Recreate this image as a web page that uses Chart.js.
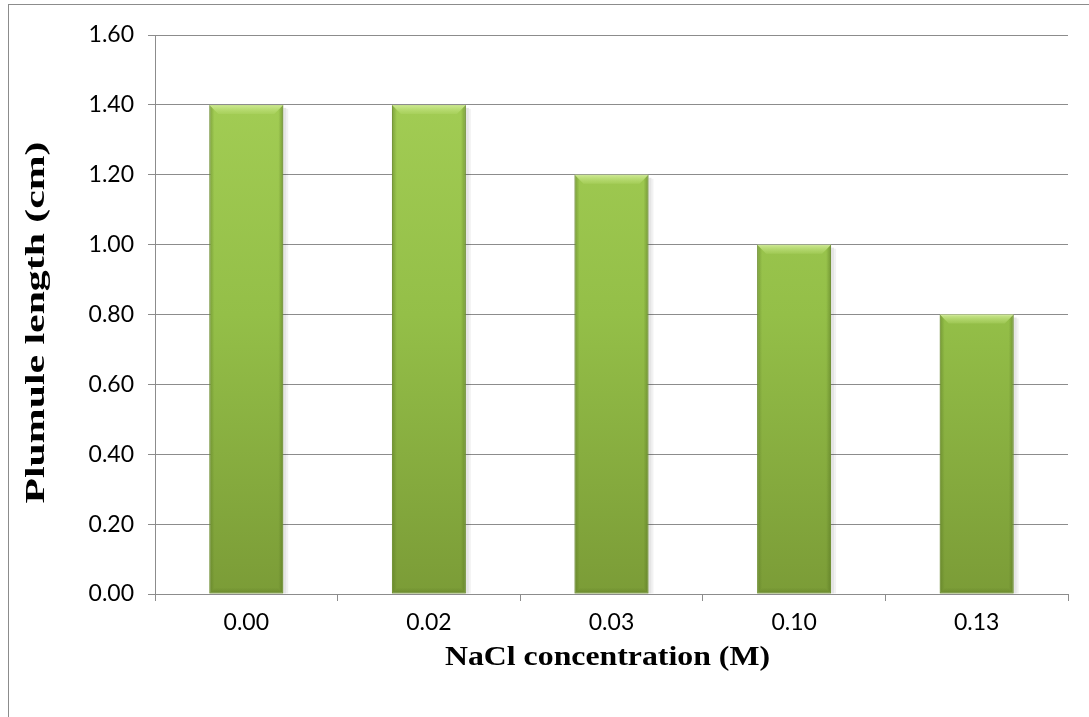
<!DOCTYPE html>
<html>
<head>
<meta charset="utf-8">
<script src="https://cdn.jsdelivr.net/npm/chart.js@4/dist/chart.umd.min.js"></script>
<style>
  html, body { margin: 0; padding: 0; background: #fff; }
  #wrap { position: relative; width: 1089px; height: 717px; overflow: hidden; }
  #frame { position: absolute; left: 8px; top: 4px; width: 1200px; height: 800px;
           border-left: 1px solid #8c8c8c; border-top: 1px solid #8c8c8c; }
  canvas { position: absolute; left: 0; top: 0; }
</style>
</head>
<body>
<div id="wrap">
  <div id="frame"></div>
  <canvas id="c" width="1089" height="717"></canvas>
</div>
<script>
// NaCl concentrations (M) and mean plumule length (cm)
const concentrations = ['0.00', '0.02', '0.03', '0.10', '0.13'];
const plumuleLength = [1.40, 1.40, 1.20, 1.00, 0.80];
const yTicks = [0, 0.2, 0.4, 0.6, 0.8, 1.0, 1.2, 1.4, 1.6];
const xTitle = 'NaCl concentration (M)';
const yTitle = 'Plumule length (cm)';

const AREA = { left: 155, right: 1068, top: 35, bottom: 594 };
const W = 1089, H = 717;

function barFill(ctx) {
  const chart = ctx.chart;
  const a = chart.chartArea;
  if (!a) return '#92bb47';
  const g = chart.ctx.createLinearGradient(0, a.top, 0, a.bottom);
  g.addColorStop(0, '#a6d057');
  g.addColorStop(0.5, '#94bf48');
  g.addColorStop(1, '#7b9c37');
  return g;
}

// Bevelled edges and a soft right-hand shadow on each bar
const bevel = {
  id: 'bevel',
  beforeDatasetsDraw(chart) {
    const c = chart.ctx;
    chart.getDatasetMeta(0).data.forEach(bar => {
      const { x, y, base, width } = bar.getProps(['x', 'y', 'base', 'width'], true);
      const r = x + width / 2;
      c.save();
      c.fillStyle = 'rgba(0,0,0,0.10)';
      c.fillRect(r, y + 3, 3, base - y - 3);
      c.fillStyle = 'rgba(0,0,0,0.05)';
      c.fillRect(r + 3, y + 4, 2, base - y - 4);
      c.restore();
    });
  },
  afterDatasetsDraw(chart) {
    const c = chart.ctx;
    chart.getDatasetMeta(0).data.forEach(bar => {
      const { x, y, base, width } = bar.getProps(['x', 'y', 'base', 'width'], true);
      const l = x - width / 2, r = x + width / 2, b = 9;
      c.save();
      const gt = c.createLinearGradient(0, y, 0, y + b);
      gt.addColorStop(0, 'rgba(215,240,160,0.85)');
      gt.addColorStop(1, 'rgba(190,225,120,0.25)');
      c.fillStyle = gt;
      c.beginPath();
      c.moveTo(l, y); c.lineTo(r, y); c.lineTo(r - b, y + b); c.lineTo(l + b, y + b); c.closePath();
      c.fill();
      const gl = c.createLinearGradient(l, 0, l + 5, 0);
      gl.addColorStop(0, 'rgba(80,110,30,0.45)');
      gl.addColorStop(1, 'rgba(80,110,30,0)');
      c.fillStyle = gl;
      c.beginPath();
      c.moveTo(l, y); c.lineTo(l + 5, y + 5); c.lineTo(l + 5, base - 5); c.lineTo(l, base); c.closePath();
      c.fill();
      const gr = c.createLinearGradient(r - 5, 0, r, 0);
      gr.addColorStop(0, 'rgba(80,110,30,0)');
      gr.addColorStop(1, 'rgba(80,110,30,0.5)');
      c.fillStyle = gr;
      c.beginPath();
      c.moveTo(r, y); c.lineTo(r, base); c.lineTo(r - 5, base - 5); c.lineTo(r - 5, y + 5); c.closePath();
      c.fill();
      const gb = c.createLinearGradient(0, base - 6, 0, base);
      gb.addColorStop(0, 'rgba(90,120,35,0)');
      gb.addColorStop(1, 'rgba(90,120,35,0.5)');
      c.fillStyle = gb;
      c.beginPath();
      c.moveTo(l, base); c.lineTo(r, base); c.lineTo(r - 6, base - 6); c.lineTo(l + 6, base - 6); c.closePath();
      c.fill();
      c.restore();
    });
  }
};

// Axis titles in a wide bold serif, stretched along their length
const axisTitles = {
  id: 'axisTitles',
  afterDraw(chart) {
    const c = chart.ctx, a = chart.chartArea;
    c.save();
    c.fillStyle = '#000';
    c.textAlign = 'center';
    c.textBaseline = 'middle';
    // horizontal title under the category axis
    c.font = 'bold 28px "Liberation Serif", "Times New Roman", serif';
    const wx = c.measureText(xTitle).width;
    c.save();
    c.translate((a.left + a.right) / 2 - 4, a.bottom + 64);
    c.scale(325 / wx, 1);
    c.fillText(xTitle, 0, 0);
    c.restore();
    // vertical title beside the value axis
    c.font = 'bold 28px "Liberation Serif", "Times New Roman", serif';
    const wy = c.measureText(yTitle).width;
    c.save();
    c.translate(37, (a.top + a.bottom) / 2 + 8);
    c.rotate(-Math.PI / 2);
    c.scale(362 / wy, 1);
    c.fillText(yTitle, 0, 0);
    c.restore();
    c.restore();
  }
};

new Chart(document.getElementById('c'), {
  type: 'bar',
  data: {
    labels: concentrations,
    datasets: [{
      data: plumuleLength,
      backgroundColor: barFill,
      borderColor: '#86a93f',
      borderWidth: 1,
      borderSkipped: false,
      categoryPercentage: 0.81,
      barPercentage: 0.5
    }]
  },
  options: {
    responsive: false,
    animation: false,
    devicePixelRatio: 1,
    layout: { padding: { left: 14, right: W - AREA.right, top: AREA.top, bottom: 10 } },
    plugins: { legend: { display: false }, tooltip: { enabled: false } },
    scales: {
      x: {
        offset: true,
        grid: { display: true, drawOnChartArea: false, offset: true, tickLength: 7, color: '#8c8c8c', lineWidth: 1 },
        border: { color: '#8c8c8c', width: 1 },
        ticks: { color: '#000', font: { family: 'Lato, "Open Sans", sans-serif', size: 23 }, padding: 8 },
        afterFit(s) { s.height = H - AREA.bottom - 10; }
      },
      y: {
        min: 0, max: 1.6,
        afterBuildTicks(s) { s.ticks = yTicks.map(v => ({ value: v })); },
        grid: { color: '#8c8c8c', lineWidth: 1, tickLength: 7 },
        border: { color: '#8c8c8c', width: 1 },
        ticks: {
          color: '#000', padding: 14,
          font: { family: 'Lato, "Open Sans", sans-serif', size: 23 },
          callback: v => Number(v).toFixed(2)
        },
        afterFit(s) { s.width = AREA.left - 14; }
      }
    }
  },
  plugins: [bevel, axisTitles]
});
</script>
</body>
</html>
